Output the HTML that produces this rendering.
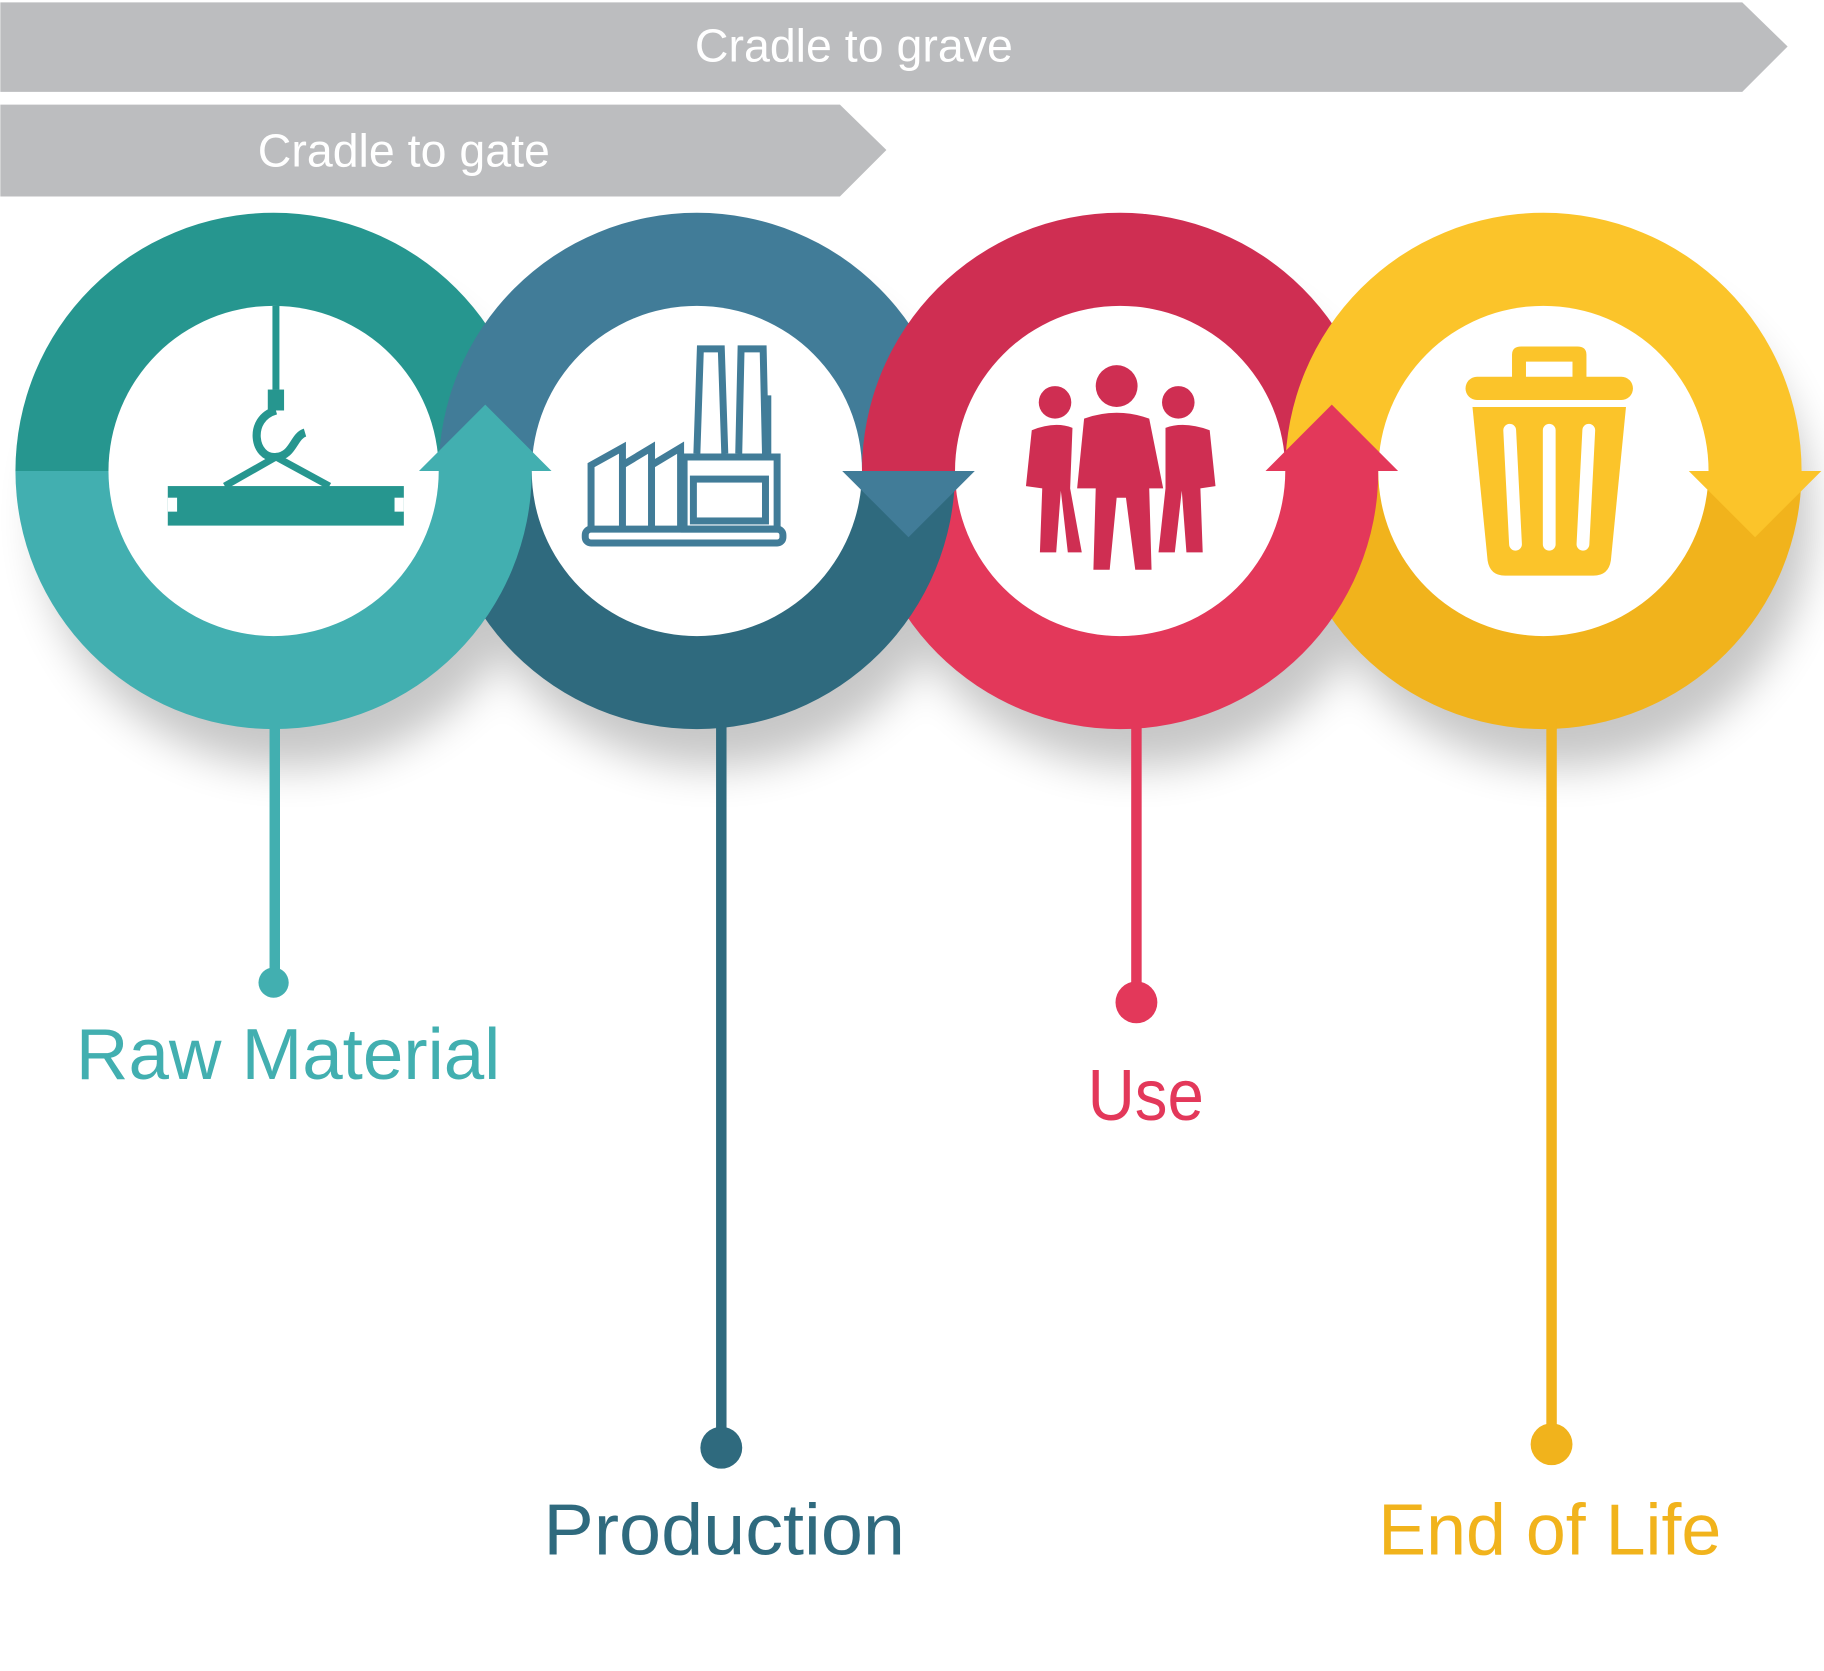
<!DOCTYPE html>
<html><head><meta charset="utf-8"><style>html,body{margin:0;padding:0;background:#fff}svg{display:block}</style></head>
<body>
<svg width="1824" height="1671" viewBox="0 0 1568 1437" xmlns="http://www.w3.org/2000/svg" font-family="Liberation Sans, sans-serif">
<defs>
<filter id="sh" x="-30%" y="-30%" width="160%" height="180%"><feGaussianBlur stdDeviation="18"/></filter>
</defs>
<polygon points="0,2 1498,2 1537,40 1498,79 0,79" fill="#bcbdbf"/>
<polygon points="0,90 722,90 762,129 722,169 0,169" fill="#bcbdbf"/>
<text x="734" y="53" font-size="40" fill="#fff" text-anchor="middle">Cradle to grave</text>
<text x="347" y="143" font-size="40" fill="#fff" text-anchor="middle">Cradle to gate</text>
<g fill="#000" opacity="0.22" filter="url(#sh)">
<ellipse cx="250" cy="445" rx="215" ry="215"/><ellipse cx="614" cy="445" rx="215" ry="215"/>
<ellipse cx="978" cy="445" rx="215" ry="215"/><ellipse cx="1342" cy="445" rx="215" ry="215"/>
</g>
<path d="M13,405 A222,222 0 0 1 457,405 Z" fill="#26968f"/>
<path d="M377,405 A222,222 0 0 1 821,405 Z" fill="#417c98"/>
<path d="M741,405 A222,222 0 0 1 1185,405 Z" fill="#cf2e52"/>
<path d="M1105,405 A222,222 0 0 1 1549,405 Z" fill="#fbc42a"/>
<path d="M1105,405 A222,222 0 0 0 1549,405 Z" fill="#f1b31c"/>
<path d="M741,405 A222,222 0 0 0 1185,405 Z" fill="#e3385a"/>
<path d="M377,405 A222,222 0 0 0 821,405 Z" fill="#2f6a7e"/>
<path d="M13,405 A222,222 0 0 0 457,405 Z" fill="#42afb0"/>
<g fill="#fff">
<circle cx="235" cy="405" r="142"/><circle cx="599" cy="405" r="142"/>
<circle cx="963" cy="405" r="142"/><circle cx="1327" cy="405" r="142"/>
</g>
<polygon points="360,405 417,348 474,405" fill="#42afb0"/>
<polygon points="724,405 781,462 838,405" fill="#417c98"/>
<polygon points="1088,405 1145,348 1202,405" fill="#e3385a"/>
<polygon points="1452,405 1509,462 1566,405" fill="#fbc42a"/>
<g stroke-width="9">
<line x1="236" y1="620" x2="236" y2="840" stroke="#42afb0"/>
<line x1="620" y1="620" x2="620" y2="1235" stroke="#2f6a7e"/>
<line x1="977" y1="620" x2="977" y2="855" stroke="#e3385a"/>
<line x1="1334" y1="620" x2="1334" y2="1232" stroke="#f1b31c"/>
</g>
<circle cx="235" cy="845" r="13" fill="#42afb0"/>
<circle cx="620" cy="1245" r="18" fill="#2f6a7e"/>
<circle cx="977" cy="862" r="18" fill="#e3385a"/>
<circle cx="1334" cy="1242" r="18" fill="#f1b31c"/>
<text x="65" y="928" font-size="62" fill="#42afb0" textLength="365" lengthAdjust="spacingAndGlyphs">Raw Material</text>
<text x="935" y="963" font-size="62" fill="#e3385a" textLength="100" lengthAdjust="spacingAndGlyphs">Use</text>
<text x="467" y="1337" font-size="62" fill="#2f6a7e" textLength="311" lengthAdjust="spacingAndGlyphs">Production</text>
<text x="1185" y="1337" font-size="62" fill="#f1b31c" textLength="295" lengthAdjust="spacingAndGlyphs">End of Life</text>
<g fill="#26968f" stroke="#26968f">
<rect x="234" y="263" width="6" height="72" stroke="none"/>
<rect x="230" y="335" width="14" height="18" stroke="none"/>
<path d="M237,353 C212,360 218,395 237,393 C252,392 252,375 262,372" fill="none" stroke-width="7"/>
<path d="M237,393 L193,418 M237,393 L283,418" fill="none" stroke-width="6"/>
<rect x="144" y="418" width="203" height="34" stroke="none"/>
</g>
<rect x="144" y="428" width="8" height="12" fill="#fff"/><rect x="339" y="428" width="8" height="12" fill="#fff"/>
<g fill="none" stroke="#417c98" stroke-width="6">
<rect x="503" y="455" width="170" height="12" rx="5"/>
<path d="M508,455 V400 L535,385 V455 M535,400 L560,385 V455 M560,400 L585,385 V455"/>
<rect x="588" y="393" width="80" height="62"/>
<rect x="596" y="412" width="62" height="36"/>
<path d="M599,390 L602,300 H620 L623,390 M635,390 L637,300 H656 L658,390 M660,340 V390"/>
</g>
<g fill="#cf2e52">
<circle cx="960" cy="332" r="18"/><circle cx="907" cy="346" r="14"/><circle cx="1013" cy="346" r="14"/>
<path d="M932,360 Q960,350 988,360 L1000,420 L988,420 L990,490 L976,490 L968,428 L960,428 L954,490 L940,490 L942,420 L926,420 Z"/>
<path d="M887,370 Q907,362 922,368 L920,420 L930,475 L918,475 L912,422 L908,475 L894,475 L896,420 L882,418 Z"/>
<path d="M1002,368 Q1018,362 1040,370 L1045,418 L1032,420 L1034,475 L1020,475 L1016,422 L1010,475 L996,475 L1002,420 Z"/>
</g>
<g fill="#fbc42a">
<path d="M1300,305 Q1300,298 1308,298 H1356 Q1364,298 1364,305 V325 H1352 V311 H1312 V325 H1300 Z"/>
<rect x="1260" y="324" width="144" height="20" rx="10"/>
<path d="M1266,350 H1398 L1385,482 Q1383,495 1370,495 H1294 Q1281,495 1279,482 Z"/>
</g>
<g stroke="#fff" stroke-width="11" stroke-linecap="round">
<line x1="1298" y1="370" x2="1303" y2="468"/><line x1="1332" y1="370" x2="1332" y2="468"/><line x1="1366" y1="370" x2="1361" y2="468"/>
</g>
</svg>
</body></html>
